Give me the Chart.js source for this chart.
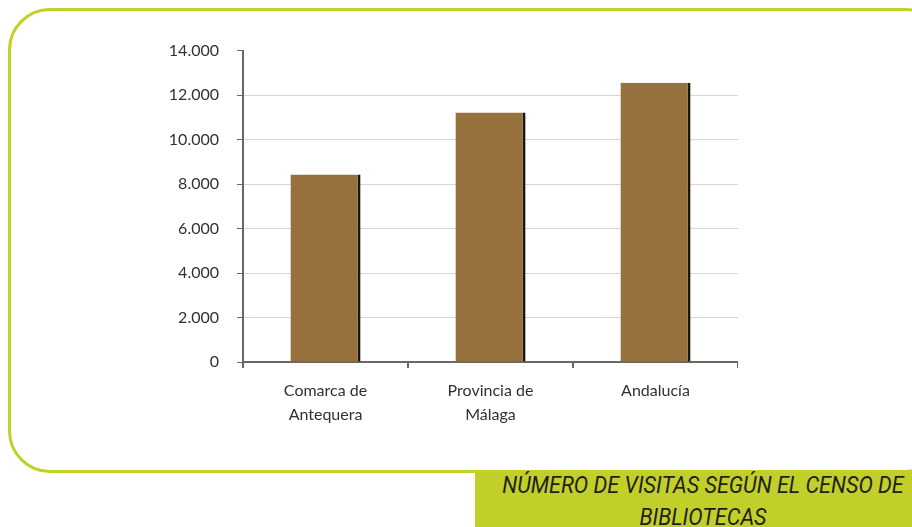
<!DOCTYPE html>
<html>
<head>
<meta charset="utf-8">
<script src="https://cdn.jsdelivr.net/npm/chart.js@4"></script>
<style>
  html, body { margin: 0; padding: 0; background: #ffffff; width: 912px; height: 527px; overflow: hidden; }
  #frame {
    position: absolute; left: 8px; top: 8px; width: 940px; height: 465px;
    border: 3.5px solid #c2d02a; border-radius: 42px; box-sizing: border-box;
  }
  #chart-wrap { position: absolute; left: 143px; top: 23px; width: 595px; height: 419px; }
  #caption-box { position: absolute; left: 475px; top: 471px; width: 437px; height: 56px; background: #c2cf28; }
  #caption {
    position: absolute; left: 453px; top: 469px; width: 500px; white-space: nowrap;
    font-family: Roboto, "Open Sans", sans-serif; font-style: italic; font-size: 24px;
    line-height: 32px; color: #1f1f1a; text-align: center;
    transform: scaleX(0.9); transform-origin: center top;
  }
</style>
</head>
<body>
<div id="frame"></div>
<div id="chart-wrap"><canvas id="c"></canvas></div>
<div id="caption-box"></div>
<div id="caption">NÚMERO DE VISITAS SEGÚN EL CENSO DE<br>BIBLIOTECAS</div>
<script>
/* ===== Datos ===== */
const categories = [["Comarca de", "Antequera"], ["Provincia de", "Málaga"], "Andalucía"];
const visitas = [8430, 11220, 12550];
const yTicks = [0, 2000, 4000, 6000, 8000, 10000, 12000, 14000];

/* ===== Helpers ===== */
function fmtES(v) {
  return String(v).replace(/\B(?=(\d{3})+(?!\d))/g, ".");
}

const AXIS_COLOR = "#6e6663";
const GRID_COLOR = "#ddd5d0";
const TEXT_COLOR = "#333030";
const FONT = "Lato, 'Open Sans', sans-serif";

new Chart(document.getElementById("c"), {
  type: "bar",
  data: {
    labels: categories,
    datasets: [{
      data: visitas,
      backgroundColor: "#97723e",
      borderColor: "#1b1611",
      borderWidth: { top: 0, left: 0, bottom: 0, right: 3 },
      borderSkipped: false,
      barPercentage: 0.85,
      categoryPercentage: 0.5
    }]
  },
  options: {
    responsive: true,
    maintainAspectRatio: false,
    animation: false,
    layout: { padding: { top: 10, left: 0, right: 0, bottom: 0 } },
    plugins: { legend: { display: false }, title: { display: false }, tooltip: { enabled: false } },
    scales: {
      x: {
        afterFit: s => { s.height = 80; },
        grid: { drawOnChartArea: false, color: AXIS_COLOR, tickLength: 6, lineWidth: 2 },
        border: { color: AXIS_COLOR, width: 2 },
        ticks: { color: TEXT_COLOR, padding: 10, font: { family: FONT, size: 16, lineHeight: 1.55 } }
      },
      y: {
        min: 0,
        max: 14000,
        afterFit: s => { s.width = 100; },
        afterBuildTicks: s => { s.ticks = yTicks.map(v => ({ value: v })); },
        grid: {
          color: c => (c.tick && c.tick.value === 14000) ? "rgba(0,0,0,0)" : GRID_COLOR,
          tickColor: AXIS_COLOR,
          tickLength: 6,
          lineWidth: 1
        },
        border: { color: AXIS_COLOR, width: 2 },
        ticks: { color: TEXT_COLOR, padding: 18, font: { family: FONT, size: 16 }, callback: v => fmtES(v) }
      }
    }
  }
});
</script>
</body>
</html>
